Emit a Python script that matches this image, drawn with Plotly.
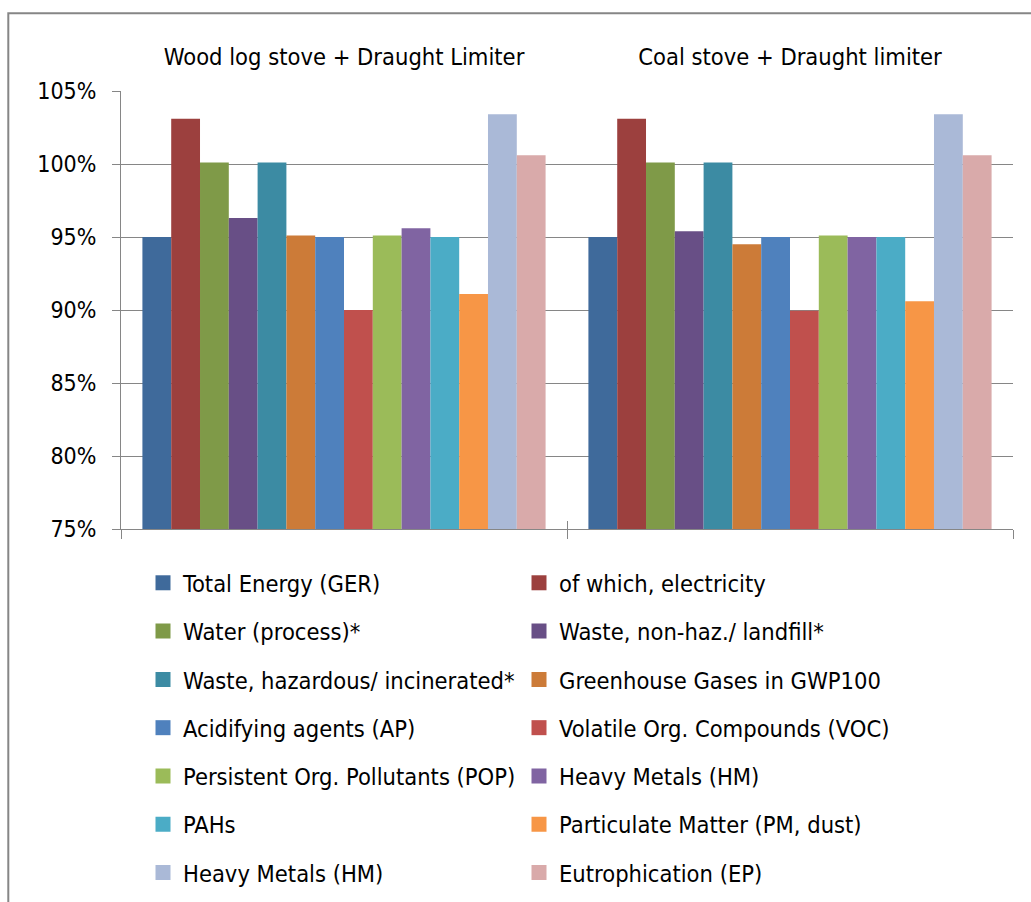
import plotly.graph_objects as go

# Stove configurations (x categories)
stoves = ["Wood log stove + Draught Limiter", "Coal stove + Draught limiter"]

# Impact indicators (one bar series each)
indicators = [
    "Total Energy (GER)",
    "of which, electricity",
    "Water (process)*",
    "Waste, non-haz./ landfill*",
    "Waste, hazardous/ incinerated*",
    "Greenhouse Gases in GWP100",
    "Acidifying agents (AP)",
    "Volatile Org. Compounds (VOC)",
    "Persistent Org. Pollutants (POP)",
    "Heavy Metals (HM)",
    "PAHs",
    "Particulate Matter (PM, dust)",
    "Heavy Metals (HM)",
    "Eutrophication (EP)",
]

# Relative impact in % for each stove configuration
wood_values = [95.0, 103.1, 100.1, 96.3, 100.1, 95.1, 95.0, 90.0, 95.1, 95.6, 95.0, 91.1, 103.4, 100.6]
coal_values = [95.0, 103.1, 100.1, 95.4, 100.1, 94.5, 95.0, 89.95, 95.1, 95.0, 95.0, 90.6, 103.4, 100.6]

colors = [
    "#3F6A9B", "#9C403E", "#7F9A48", "#684F86", "#3C8BA3", "#CC7B38", "#4F81BD",
    "#C0504D", "#9BBB59", "#8064A2", "#4BACC6", "#F79646", "#AAB9D7", "#D9AAAA",
]

y_ticks = [75, 80, 85, 90, 95, 100, 105]

FONT = "DejaVu Sans Condensed, DejaVu Sans, sans-serif"
GREY = "#868686"

W, H = 1031, 902
L, R, T, B = 121, 18, 91, 373
pw, ph = W - L - R, H - T - B


def px_x(p):
    return (p - L) / pw


def px_y(p):
    return (H - B - p) / ph


def legend_id(row):
    return "legend" if row == 0 else f"legend{row + 1}"


fig = go.Figure()
for i, name in enumerate(indicators):
    fig.add_trace(go.Bar(
        x=stoves,
        y=[wood_values[i], coal_values[i]],
        name=name,
        marker=dict(color=colors[i], line=dict(width=0)),
        legendgroup=f"g{i}",
        showlegend=False,
    ))

# legend keys: square swatches, two per legend row
for i, name in enumerate(indicators):
    fig.add_trace(go.Scatter(
        x=[None], y=[None],
        mode="markers",
        name=name,
        marker=dict(symbol="square", size=15, color=colors[i], line=dict(width=0)),
        legendgroup=f"g{i}",
        legend=legend_id(i // 2),
        hoverinfo="skip",
    ))

# empty carriers so the overlaid category axes (top labels, cross ticks) are drawn
for ax in ("x2", "x3"):
    fig.add_trace(go.Scatter(
        x=stoves, y=[None, None], xaxis=ax, yaxis="y",
        mode="markers", showlegend=False, hoverinfo="skip",
    ))

n_rows = (len(indicators) + 1) // 2
row_mid0, row_step = 583, 48.3
legends = {}
for r in range(n_rows):
    legends[legend_id(r)] = dict(
        orientation="h",
        entrywidth=331,
        entrywidthmode="pixels",
        itemsizing="trace",
        font=dict(family=FONT, size=23.5, color="#000000"),
        bgcolor="rgba(0,0,0,0)",
        borderwidth=0,
        x=px_x(143),
        xanchor="left",
        y=px_y(row_mid0 + r * row_step),
        yanchor="middle",
    )

cat_axis = dict(
    type="category",
    categoryorder="array",
    categoryarray=stoves,
    range=[-0.5, 1.5],
    showgrid=False,
    zeroline=False,
    automargin=False,
)

fig.update_layout(
    width=W,
    height=H,
    margin=dict(l=L, r=R, t=T, b=B, pad=0, autoexpand=False),
    paper_bgcolor="white",
    plot_bgcolor="white",
    barmode="group",
    bargap=0.096,
    bargroupgap=0,
    font=dict(family=FONT, size=23, color="#000000"),
    xaxis=dict(
        **cat_axis,
        showticklabels=False,
        showline=True,
        linecolor=GREY,
        linewidth=1,
        ticks="outside",
        tickson="boundaries",
        ticklen=9,
        tickcolor=GREY,
        tickwidth=1,
    ),
    xaxis2=dict(
        **cat_axis,
        overlaying="x",
        anchor="y",
        side="top",
        showline=False,
        ticks="",
        ticklabelstandoff=20,
        tickfont=dict(family=FONT, size=23.5, color="#000000"),
    ),
    xaxis3=dict(
        **cat_axis,
        overlaying="x",
        anchor="y",
        side="bottom",
        showticklabels=False,
        showline=False,
        ticks="inside",
        tickson="boundaries",
        ticklen=8,
        tickcolor=GREY,
        tickwidth=1,
    ),
    yaxis=dict(
        range=[75, 105],
        tickvals=y_ticks,
        ticktext=[f"{v}%" for v in y_ticks],
        showgrid=True,
        gridcolor=GREY,
        gridwidth=1,
        zeroline=False,
        showline=True,
        linecolor=GREY,
        linewidth=1,
        ticks="outside",
        ticklen=8,
        tickcolor=GREY,
        tickwidth=1,
        ticklabelstandoff=11,
        automargin=False,
        tickfont=dict(family=FONT, size=23, color="#000000"),
    ),
    shapes=[
        dict(
            type="rect",
            xref="paper",
            yref="paper",
            x0=px_x(8.3),
            x1=px_x(1045),
            y0=px_y(915),
            y1=px_y(13.3),
            line=dict(color=GREY, width=2),
            fillcolor="rgba(0,0,0,0)",
            layer="below",
        )
    ],
    **legends,
)

fig.write_html("out.html")
